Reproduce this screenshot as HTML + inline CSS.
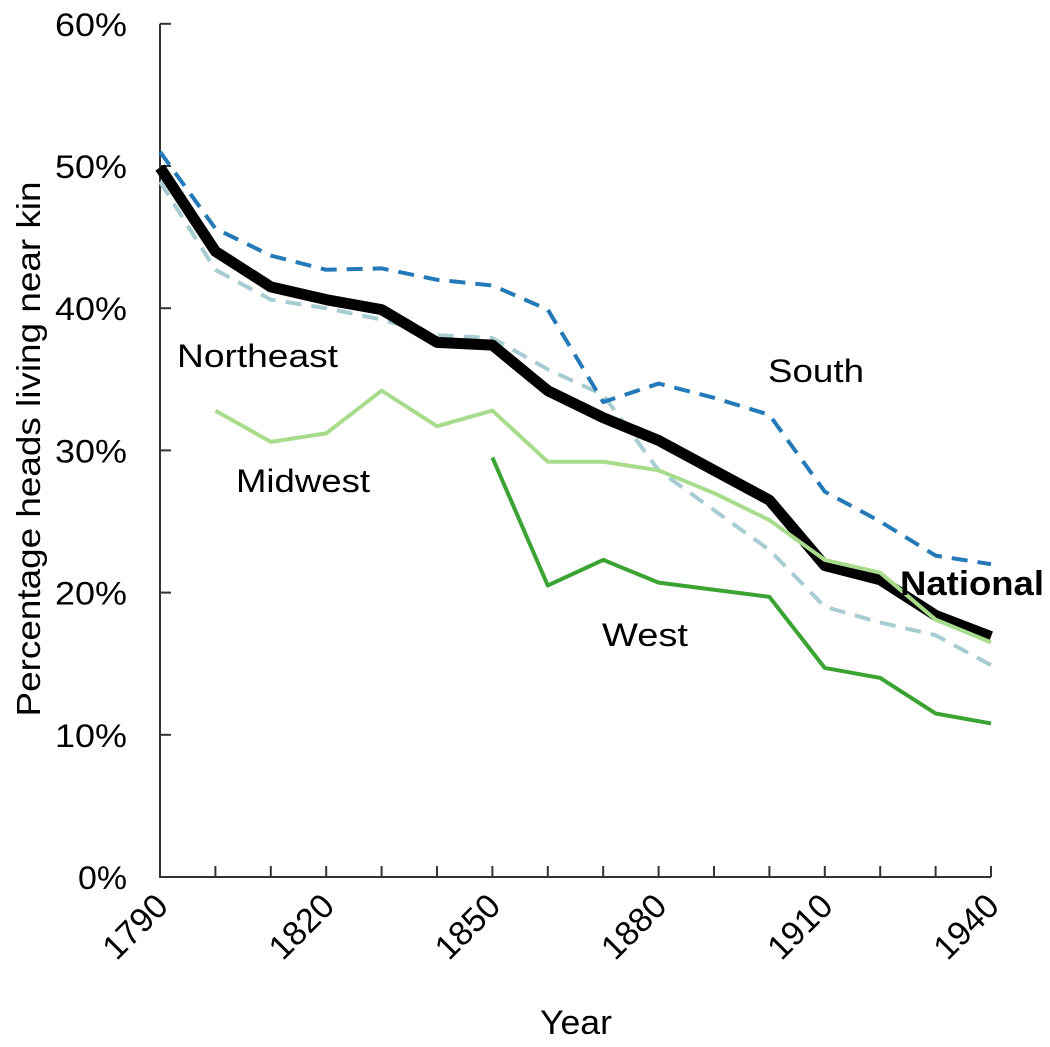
<!DOCTYPE html>
<html><head><meta charset="utf-8"><style>
html,body{margin:0;padding:0;background:#fff}
svg text{font-family:"Liberation Sans",Arial,sans-serif;fill:#000}
</style></head><body>
<svg id="chart" width="1050" height="1042" viewBox="0 0 1050 1042" xmlns="http://www.w3.org/2000/svg">
<g id="axes"></g>
<g id="series"></g>
<text transform="translate(40,449) rotate(-90)" text-anchor="middle" font-size="33" textLength="535" lengthAdjust="spacingAndGlyphs">Percentage heads living near kin</text>
<text x="576" y="1034" text-anchor="middle" font-size="34" textLength="72" lengthAdjust="spacingAndGlyphs">Year</text>
<text x="177" y="367" font-size="32" textLength="161" lengthAdjust="spacingAndGlyphs">Northeast</text>
<text x="236" y="492" font-size="32" textLength="134" lengthAdjust="spacingAndGlyphs">Midwest</text>
<text x="768" y="382" font-size="32" textLength="96" lengthAdjust="spacingAndGlyphs">South</text>
<text x="602" y="646" font-size="32" textLength="86" lengthAdjust="spacingAndGlyphs">West</text>
<text x="900" y="595" font-size="34" font-weight="bold" textLength="144" lengthAdjust="spacingAndGlyphs">National</text>
</svg>
<script>
const years = [1790,1800,1810,1820,1830,1840,1850,1860,1870,1880,1890,1900,1910,1920,1930,1940];
const national = [49.9,44,41.5,40.6,39.9,37.6,37.4,34.2,32.3,30.7,28.6,26.5,21.9,20.9,18.4,16.9];
const south = [51,45.6,43.7,42.7,42.8,42,41.6,39.9,33.4,34.7,33.7,32.5,27.1,25,22.6,22];
const northeast = [48.9,42.7,40.6,40,39.2,38.1,37.9,35.7,33.9,28.6,25.8,23,19,17.9,17,14.9];
const midwest = [null,32.8,30.6,31.2,34.2,31.7,32.8,29.2,29.2,28.6,27,25.1,22.3,21.4,18.1,16.5];
const west = [null,null,null,null,null,null,29.5,20.5,22.3,20.7,20.2,19.7,14.7,14,11.5,10.8];
const yTicks = [0,10,20,30,40,50,60];
const xLabels = [1790,1820,1850,1880,1910,1940];

const NS='http://www.w3.org/2000/svg';
const x = v => 160 + (v-1790)/150*831;
const y = v => 877 - v*14.22;
const axes=document.getElementById('axes'), ser=document.getElementById('series');
function mk(tag,attrs,parent){const e=document.createElementNS(NS,tag);for(const k in attrs)e.setAttribute(k,attrs[k]);parent.appendChild(e);return e;}

let e=mk('path',{d:`M160,${y(60)}V877H${x(1940)}`,fill:'none',stroke:'#333','stroke-width':2},axes);


yTicks.forEach(t=>{
  const l=mk('line',{x1:160,x2:171,y1:y(t),y2:y(t),stroke:'#333','stroke-width':2},axes);
  
  
  const s=t+'%';
  const tx=mk('text',{x:127,y:y(t)+12,'text-anchor':'end','font-size':32,textLength:s.length===2?49:72,lengthAdjust:'spacingAndGlyphs'},axes);
  tx.textContent=s;
  
  
});
years.forEach(v=>{
  const l=mk('line',{x1:x(v),x2:x(v),y1:877,y2:866,stroke:'#333','stroke-width':2},axes);
  
  
});
xLabels.forEach(v=>{
  const tx=mk('text',{transform:`translate(${x(v)+10},${908}) rotate(-45)`,'text-anchor':'end','font-size':34},axes);
  tx.textContent=v;
  
  
});
function line(vals,style,name){
  let d='';let pen=false;
  vals.forEach((v,i)=>{if(v==null){pen=false;return;}d+=(pen?'L':'M')+x(years[i])+','+y(v);pen=true;});
  const p=mk('path',Object.assign({d,fill:'none','stroke-linejoin':'round'},style),ser);
  
  
}
line(west,{stroke:'#3aa332','stroke-width':4},'line-west');
line(northeast,{stroke:'#a7ccd2','stroke-width':4,'stroke-dasharray':'16,10'},'line-northeast');
line(national,{stroke:'#000','stroke-width':11},'line-national');
line(midwest,{stroke:'#a8dc8c','stroke-width':4},'line-midwest');
line(south,{stroke:'#2479b8','stroke-width':4,'stroke-dasharray':'16,10'},'line-south');
</script>
</body></html>
